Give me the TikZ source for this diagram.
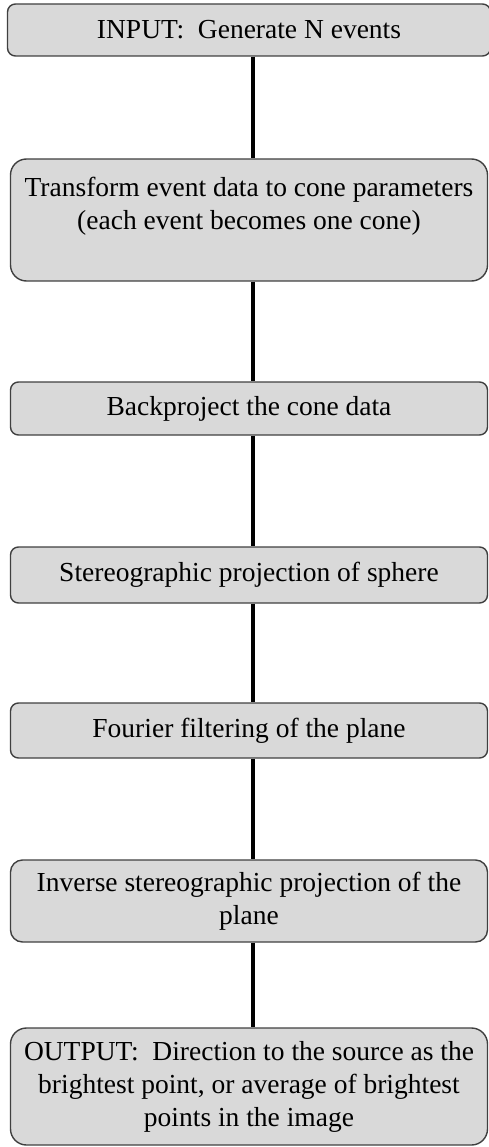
\documentclass[tikz,border=0pt]{standalone}
\usepackage{fontspec}
\setmainfont{Liberation Serif}
\usepackage{xcolor}
\usepackage{tikz}
\usetikzlibrary{shapes,arrows,positioning}

\tikzset{
  stage/.style={draw=black!75, line width=1.4pt, fill=black!15, rounded corners=8pt,
    align=center, inner sep=0pt, minimum width=477pt,
    font=\fontsize{27.5}{33}\selectfont},
  link/.style={line width=4pt, black}
}

\begin{document}
\begin{tikzpicture}[x=1pt,y=-1pt]
\useasboundingbox (0,0) rectangle (489,1147);

% input / first steps
\node[stage, minimum width=483pt, minimum height=52pt] (input) at (249,30) {INPUT:\ \ Generate N events};
\node[stage, rounded corners=16pt, minimum height=122pt] (transform) at (249,220)
  {Transform event data to cone parameters\\(each event becomes one cone)\\ \mbox{}};
\node[stage, minimum height=53pt] (backproject) at (249,408.5) {Backproject the cone data};

% projection and filtering
\node[stage, minimum height=56pt] (stereo) at (249,575) {Stereographic projection of sphere};
\node[stage, minimum height=55pt] (fourier) at (249,730.5) {Fourier filtering of the plane};
\node[stage, rounded corners=12pt, minimum height=82pt] (inverse) at (249,901)
  {Inverse stereographic projection of the\\plane};

% output
\node[stage, rounded corners=16pt, minimum height=117pt] (output) at (249,1086.5)
  {OUTPUT:\ \ Direction to the source as the\\brightest point, or average of brightest\\points in the image};

% connectors
\foreach \a/\b in {input/transform, transform/backproject, backproject/stereo,
                   stereo/fourier, fourier/inverse, inverse/output}
    \draw[link] ([xshift=4pt]\a.south) -- ([xshift=4pt]\b.north);
\end{tikzpicture}
\end{document}
